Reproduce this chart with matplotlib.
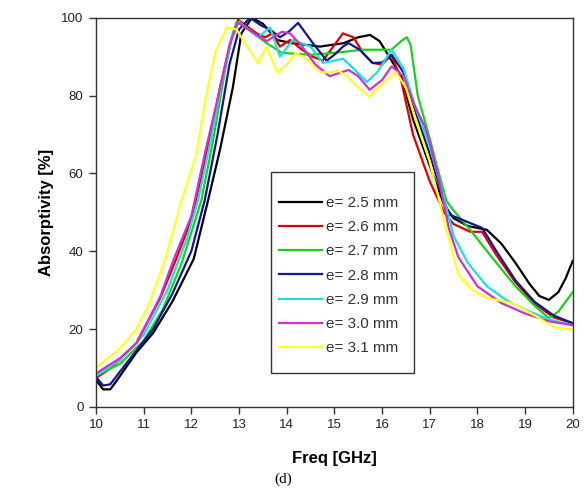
import matplotlib.pyplot as plt
from matplotlib.patches import Rectangle

# absorptivity curves, values
f_25 = [10.0, 10.15, 10.3, 10.45, 10.85, 11.2, 11.6, 12.05, 12.35, 12.6, 12.87, 13.05, 13.27, 13.5, 13.8, 14.1, 14.7,
        15.2, 15.5, 15.75, 15.95, 16.15, 16.4, 16.65, 17.0, 17.3, 17.5, 17.8, 18.2, 18.5, 18.8, 19.1, 19.3, 19.5,
        19.7, 19.85, 20.0]
a_25 = [7, 4.5, 4.5, 7, 14, 19, 27, 38, 53, 66, 82, 96, 100, 98.5, 94.3, 93.5, 92.6,
        93.5, 95, 95.6, 94, 90, 85, 74, 62, 52, 48.5, 46.5, 45.5, 42, 37, 31.5, 28.5, 27.5,
        29.5, 33, 37.5]

f_26 = [10.0, 10.2, 10.5, 10.85, 11.35, 11.65, 12.0, 12.3, 12.6, 12.85, 12.98, 13.15, 13.37, 13.55, 13.7, 13.86,
        14.07, 14.3, 14.55, 14.76, 15.0, 15.18, 15.4, 15.6, 15.8, 16.0, 16.2, 16.4, 16.65, 17.0, 17.3, 17.5,
        17.85, 18.1, 18.4, 18.8, 19.2, 19.6, 20.0]
a_26 = [7.5, 9, 12, 16.5, 28, 37, 48, 64, 82, 95, 99.5, 98, 96, 95, 96, 92.6,
        94.3, 92, 90, 89, 93, 96, 95, 91, 88.4, 88, 90.5, 84, 70, 58, 50, 47,
        45, 45, 39, 32, 26.5, 23, 21.5]

f_27 = [10.0, 10.5, 11.0, 11.4, 11.8, 12.21, 12.45, 12.7, 12.85, 12.95, 13.2, 13.58, 13.9, 14.5, 15.0, 15.6, 16.2,
        16.4, 16.52, 16.6, 16.75, 17.0, 17.15, 17.35, 17.5, 17.85, 18.3, 18.8, 19.2, 19.5, 19.7, 20.0]
a_27 = [8, 11, 17, 25, 37, 53, 68, 86, 95, 99, 97, 93.5, 91, 90.5, 91, 91.8, 91.8,
        94, 95, 93, 80, 69, 62, 53, 50.5, 45.5, 38.5, 31, 26, 22.8, 24.5, 29.5]

f_28 = [10.0, 10.15, 10.3, 10.5, 10.85, 11.2, 11.6, 12.0, 12.28, 12.55, 12.8, 13.0, 13.23, 13.47, 13.65, 13.86,
        14.05, 14.24, 14.55, 14.84, 15.0, 15.18, 15.3, 15.53, 15.8, 16.0, 16.2, 16.45, 16.7, 17.0, 17.25, 17.4,
        17.7, 18.1, 18.4, 18.8, 19.2, 19.6, 20.0]
a_28 = [7.7, 5.5, 5.8, 9, 14.5, 20, 29, 40, 53, 70, 88, 97, 100, 98, 97, 95,
        96.5, 98.7, 93.5, 89, 90.5, 92.6, 93.5, 91.8, 88.4, 88.5, 90.5, 86, 76, 65, 55, 49.5,
        48, 46, 40, 32.5, 27, 23.5, 21.5]

f_29 = [10.0, 10.5, 11.0, 11.5, 11.9, 12.14, 12.4, 12.65, 12.85, 13.0, 13.2, 13.4, 13.65, 13.86, 14.13, 14.5,
        14.76, 15.0, 15.18, 15.4, 15.68, 15.9, 16.2, 16.45, 16.7, 17.0, 17.25, 17.5, 17.8, 18.2, 18.6, 19.0,
        19.5, 20.0]
a_29 = [8, 12, 18.5, 30, 43, 53, 68, 84, 95, 99, 97, 95, 97.5, 90, 94.3, 92.6,
        88.4, 89, 89.5, 87, 83.5, 86, 91.8, 87, 77, 67, 56, 44, 37, 31, 27.5, 25,
        22.5, 21]

f_30 = [10.0, 10.5, 10.86, 11.35, 11.63, 12.0, 12.3, 12.55, 12.8, 12.98, 13.2, 13.58, 13.9, 14.07, 14.3, 14.6,
        14.9, 15.3, 15.5, 15.74, 16.0, 16.2, 16.45, 16.7, 16.9, 17.0, 17.2, 17.4, 17.6, 18.0, 18.5, 19.0,
        19.5, 20.0]
a_30 = [8.6, 12.5, 16.5, 28.4, 37.9, 49, 66, 79, 93, 98.8, 97, 94, 96.4, 96, 93, 88,
        85, 86.6, 85, 81.5, 84, 87.5, 85, 77, 72, 68, 58, 46, 38.5, 31, 26.7, 24,
        22, 21]

f_31 = [10.0, 10.5, 10.85, 11.1, 11.45, 11.76, 12.11, 12.28, 12.5, 12.74, 12.95, 13.15, 13.4, 13.58, 13.8, 14.0,
        14.2, 14.45, 14.7, 14.97, 15.07, 15.26, 15.5, 15.74, 16.0, 16.3, 16.5, 16.7, 17.0, 17.3, 17.6, 17.9,
        18.2, 18.75, 19.2, 19.6, 20.0]
a_31 = [10, 15, 20, 26, 37.8, 51.6, 65.2, 78, 91, 97.5, 97, 93, 88.4, 92.6, 86, 88,
        91, 89, 86, 86, 86.5, 85, 82, 79.7, 83, 86, 82, 74, 63, 48, 34, 30,
        28, 26.6, 23.5, 20.5, 19.8]

series = [
    (f_25, a_25, "e= 2.5 mm", "#000000"),
    (f_26, a_26, "e= 2.6 mm", "#e00000"),
    (f_27, a_27, "e= 2.7 mm", "#22cc22"),
    (f_28, a_28, "e= 2.8 mm", "#141496"),
    (f_29, a_29, "e= 2.9 mm", "#22dddd"),
    (f_30, a_30, "e= 3.0 mm", "#cc33cc"),
    (f_31, a_31, "e= 3.1 mm", "#ffff22"),
]

plt.rcParams['font.family'] = ['Liberation Sans', 'DejaVu Sans']

fig = plt.figure(figsize=(5.85, 4.95), dpi=100)
ax = fig.add_axes([0.164, 0.178, 0.815, 0.786])

for f, a, lab, col in series:
    ax.plot(f, a, color=col, lw=1.6, label=lab)

ax.set_xlim(10, 20)
ax.set_ylim(0, 100)
ax.set_xticks(range(10, 21))
ax.set_yticks(range(0, 101, 20))
ax.tick_params(direction='out', length=5, width=1, pad=4, labelsize=9.5,
               color='#333333', labelcolor='#222222')
ax.tick_params(top=False, right=False)
for s in ax.spines.values():
    s.set_color('#333333')
    s.set_linewidth(1.0)

ax.set_xlabel("Freq [GHz]", fontsize=12, fontweight='bold', labelpad=14)
ax.set_ylabel("Absorptivity [%]", fontsize=12, fontweight='bold', labelpad=5)

# legend box drawn separately so the inner padding can follow the original
ax.add_patch(Rectangle((0.368, 0.087), 0.299, 0.518, transform=ax.transAxes,
                       facecolor='white', edgecolor='#333333', lw=1.0, zorder=4))
leg = ax.legend(loc='upper left', bbox_to_anchor=(0.384, 0.542), frameon=False,
                fontsize=11, handlelength=2.8, handletextpad=0.3, labelspacing=0.67,
                borderpad=0, borderaxespad=0)
for t in leg.get_texts():
    t.set_color('#333333')
leg.set_zorder(5)

fig.text(0.484, 0.024, "(d)", family='Liberation Serif', fontsize=11, ha='center')

fig.savefig("out.png", dpi=100)
